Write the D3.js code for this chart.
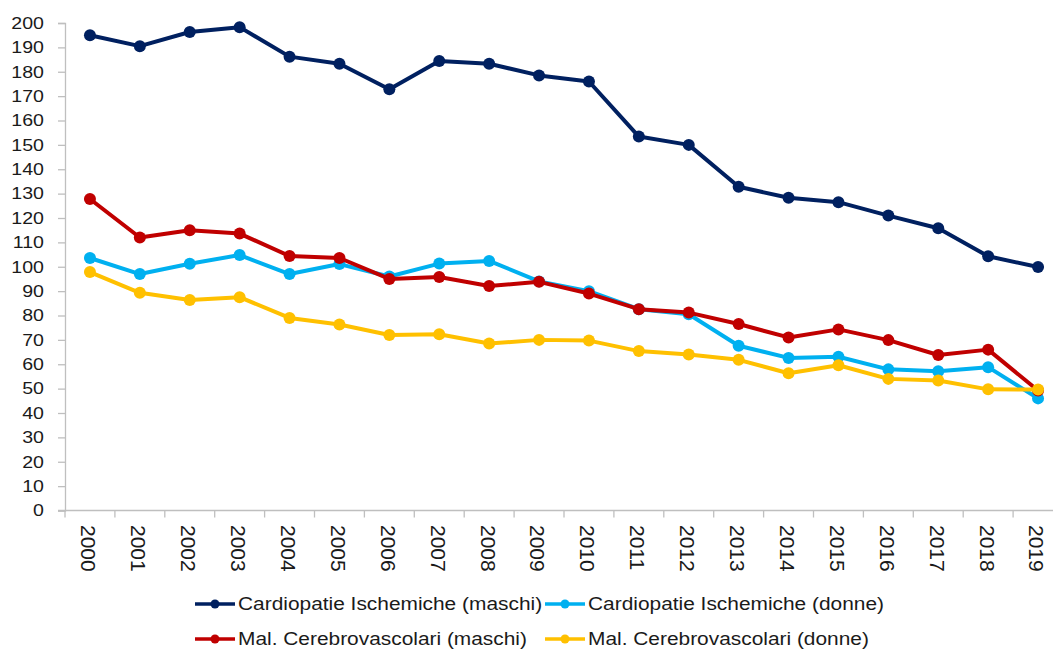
<!DOCTYPE html>
<html>
<head>
<meta charset="utf-8">
<script src="https://cdn.jsdelivr.net/npm/d3@7"></script>
<style>
  body { margin: 0; background: #fff; }
  text { font-family: "Liberation Sans", Arial, sans-serif; fill: #1a1a1a; }
</style>
</head>
<body>
<script>
//categories on the x axis
var years = ["2000", "2001", "2002", "2003", "2004", "2005", "2006", "2007", "2008", "2009",
    "2010", "2011", "2012", "2013", "2014", "2015", "2016", "2017", "2018", "2019"];

//series values
var cardioMaschi = [195, 190.5, 196.3, 198.3, 186.2, 183.3, 172.8, 184.4, 183.3, 178.5,
    176, 153.4, 150, 132.8, 128.3, 126.5, 121, 115.8, 104.3, 99.9];
var cardioDonne = [103.6, 97, 101.2, 104.8, 97, 101.1, 96, 101.3, 102.4, 94,
    90, 82.6, 80.5, 67.6, 62.6, 63.1, 57.9, 57.1, 58.8, 46];
var cerebroMaschi = [127.8, 112, 115, 113.6, 104.4, 103.6, 95, 95.8, 92.1, 93.8,
    89, 82.6, 81.2, 76.5, 71, 74.3, 69.9, 63.8, 66, 49.2];
var cerebroDonne = [97.8, 89.3, 86.4, 87.5, 79, 76.3, 72, 72.3, 68.5, 70,
    69.7, 65.4, 64, 61.8, 56.3, 59.6, 54, 53.3, 49.7, 49.6];

var seriesNames = ["Cardiopatie Ischemiche (maschi)", "Cardiopatie Ischemiche (donne)",
    "Mal. Cerebrovascolari (maschi)", "Mal. Cerebrovascolari (donne)"];
var seriesColors = ["#002060", "#00b0f0", "#c00000", "#ffc000"];

//y tick labels
var yTicks = d3.range(0, 201, 10);

window.onload = drawChart();

function drawChart() {
    var width = 1053,
        height = 652;

    var svg = d3.select("body")
        .append("svg")
        .attr("width", width)
        .attr("height", height);

    //band scale so ticks fall between the years, like Excel
    var x = d3.scaleBand()
        .domain(years)
        .range([65, 1063]);

    var y = d3.scaleLinear()
        .domain([0, 200])
        .range([510.5, 23]);

    var axisColor = "#bfbfbf";

    //y axis
    var yAxis = svg.append("g")
        .attr("transform", "translate(65,0)")
        .call(d3.axisLeft(y).tickValues(yTicks).tickSize(7).tickFormat(""));
    yAxis.select(".domain").attr("stroke", axisColor).attr("stroke-width", 1.3);
    yAxis.selectAll(".tick line").attr("stroke", axisColor).attr("stroke-width", 1.3);

    //y labels, stretched a bit sideways like the original
    svg.append("g").selectAll("g")
        .data(yTicks)
        .enter()
        .append("g")
        .attr("transform", function (d) { return "translate(44," + y(d) + ") scale(1.2,1)"; })
        .append("text")
        .attr("text-anchor", "end")
        .attr("dy", "0.36em")
        .style("font-size", "16.3px")
        .text(function (d) { return d; });

    //x axis with ticks at the band edges
    var xAxis = svg.append("g")
        .attr("transform", "translate(0," + y(0) + ")");
    xAxis.append("line")
        .attr("x1", 58).attr("x2", 1063)
        .attr("stroke", axisColor).attr("stroke-width", 1.3);
    xAxis.selectAll(".edge")
        .data(years)
        .enter()
        .append("line")
        .attr("class", "edge")
        .attr("x1", function (d) { return x(d); })
        .attr("x2", function (d) { return x(d); })
        .attr("y1", 0).attr("y2", 7)
        .attr("stroke", axisColor).attr("stroke-width", 1.3);

    //rotated year labels
    svg.append("g").selectAll("text")
        .data(years)
        .enter()
        .append("text")
        .attr("transform", function (d) {
            return "translate(" + (x(d) + x.bandwidth() / 2 - 1) + ",525) rotate(90)";
        })
        .attr("dy", "0.36em")
        .style("font-size", "21px")
        .text(function (d) { return d; });

    var allSeries = [cardioMaschi, cardioDonne, cerebroMaschi, cerebroDonne];

    var line = d3.line()
        .x(function (d, i) { return x(years[i]) + x.bandwidth() / 2; })
        .y(function (d) { return y(d); });

    //draw series back to front: yellow, red, cyan, navy? keep Excel order
    allSeries.forEach(function (vals, k) {
        var g = svg.append("g");
        g.append("path")
            .datum(vals)
            .attr("fill", "none")
            .attr("stroke", seriesColors[k])
            .attr("stroke-width", 4)
            .attr("stroke-linejoin", "round")
            .attr("d", line);
        g.selectAll("circle")
            .data(vals)
            .enter()
            .append("circle")
            .attr("cx", function (d, i) { return x(years[i]) + x.bandwidth() / 2; })
            .attr("cy", function (d) { return y(d); })
            .attr("r", 6)
            .attr("fill", seriesColors[k]);
    });

    //legend, two rows of two
    var legendPos = [[195, 610], [545, 610], [195, 645], [545, 645]];
    seriesNames.forEach(function (name, k) {
        var lx = legendPos[k][0],
            ly = legendPos[k][1];
        var g = svg.append("g");
        g.append("line")
            .attr("x1", lx).attr("x2", lx + 40)
            .attr("y1", ly - 6).attr("y2", ly - 6)
            .attr("stroke", seriesColors[k])
            .attr("stroke-width", 3.5);
        g.append("circle")
            .attr("cx", lx + 20).attr("cy", ly - 6)
            .attr("r", 4.5)
            .attr("fill", seriesColors[k]);
        g.append("g")
            .attr("transform", "translate(" + (lx + 43) + "," + ly + ") scale(1.13,1)")
            .append("text")
            .style("font-size", "18.5px")
            .text(name);
    });
}
</script>
</body>
</html>
